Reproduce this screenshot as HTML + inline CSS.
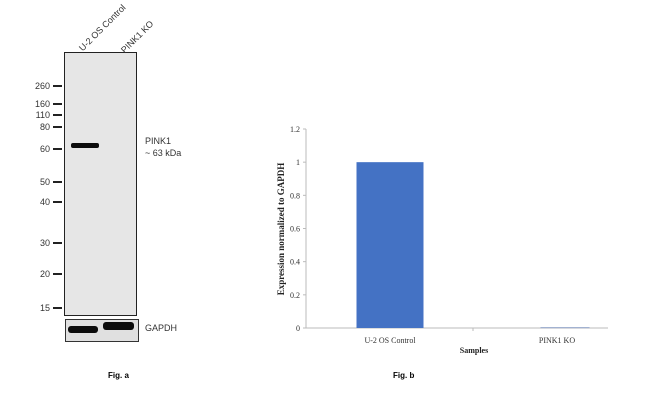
<!DOCTYPE html>
<html><head><meta charset="utf-8"><style>
body{margin:0;width:650px;height:406px;background:#fff;position:relative;overflow:hidden;font-family:"Liberation Sans",Arial,sans-serif}
.a{position:absolute}
.mk{position:absolute;left:20px;width:30px;text-align:right;font-size:9px;color:#333;line-height:10px}
.tk{position:absolute;left:53px;width:9px;height:1.5px;background:#222}
</style></head><body>
<div class="a" style="left:64px;top:52px;width:71px;height:262px;background:#e6e6e6;border:1.5px solid #222"></div>
<div class="a" style="left:77px;top:46px;font-size:9px;color:#333;transform:rotate(-45deg);transform-origin:0 0;white-space:nowrap;z-index:2">U-2 OS Control</div>
<div class="a" style="left:119px;top:48px;font-size:9px;color:#333;transform:rotate(-45deg);transform-origin:0 0;white-space:nowrap;z-index:2">PINK1 KO</div>
<div class="a" style="left:71px;top:143px;width:28px;height:5px;background:#0c0c0c;border-radius:2px"></div>
<div class="a" style="left:65px;top:319px;width:72px;height:21px;background:#e0e0e0;border:1px solid #333"></div>
<div class="a" style="left:68px;top:326px;width:30px;height:7px;background:#0c0c0c;border-radius:3px"></div>
<div class="a" style="left:103px;top:322px;width:31px;height:8px;background:#0c0c0c;border-radius:3px"></div>
<div id="mw"></div>
<div class="a" style="left:145px;top:135px;font-size:9px;color:#333;line-height:12px">PINK1<br>~ 63 kDa</div>
<div class="a" style="left:145px;top:323px;font-size:9px;color:#333">GAPDH</div>
<div class="a" style="left:108px;top:371px;font-size:8px;font-weight:bold">Fig. a</div>
<div class="a" style="left:393px;top:371px;font-size:8px;font-weight:bold">Fig. b</div>
<svg class="a" style="left:0;top:0" width="650" height="406" id="ch"></svg>
<script>
const mwLabels=["260","160","110","80","60","50","40","30","20","15"];
const mwY=[86,104,115,127,149,182,202,243,274,308];
const mw=document.getElementById('mw');
mwLabels.forEach((l,i)=>{
 const t=document.createElement('div');t.className='mk';t.style.top=(mwY[i]-5)+'px';t.textContent=l;
 
 
 mw.appendChild(t);
 const k=document.createElement('div');k.className='tk';k.style.top=(mwY[i]-1)+'px';
 
 
 mw.appendChild(k);
});
const categories=["U-2 OS Control","PINK1 KO"];
const values=[1.0,0.005];
const yTicks=[0,0.2,0.4,0.6,0.8,1,1.2];
const yTickLabels=["0","0.2","0.4","0.6","0.8","1","1.2"];
const X0=306,X1=608,Y0=328,Y1=129,YMAX=1.2;
const y=v=>Y0-(v/YMAX)*(Y0-Y1);
const band=167;
const NS='http://www.w3.org/2000/svg';
const svg=document.getElementById('ch');
function mk(tag,attrs,txt){const e=document.createElementNS(NS,tag);for(const k in attrs)e.setAttribute(k,attrs[k]);if(txt!==undefined)e.textContent=txt;svg.appendChild(e);return e;}
let ax=mk('line',{x1:X0,y1:Y1,x2:X0,y2:Y0,stroke:'#bbb'});


let bx=mk('line',{x1:X0,y1:Y0,x2:X1,y2:Y0,stroke:'#bbb'});


yTicks.forEach((v,i)=>{
 const tl=mk('line',{x1:X0-3,y1:y(v),x2:X0,y2:y(v),stroke:'#bbb'});
 
 
 const t=mk('text',{x:X0-6,y:y(v)+3,'text-anchor':'end','font-family':'Liberation Serif,serif','font-size':'8',fill:'#333'},yTickLabels[i]);
 
 
});
const mt=mk('line',{x1:473,y1:Y0,x2:473,y2:Y0+3,stroke:'#bbb'});


const bw=[67,49];
const shift=[0,8];
categories.forEach((c,i)=>{
 const cx=X0+84+band*i;
 const r=mk('rect',{x:cx+shift[i]-bw[i]/2,y:y(values[i]),width:bw[i],height:Math.max(Y0-y(values[i]),1),fill:i?'#8fa2c8':'#4472c4'});
 
 
 const t=mk('text',{x:cx,y:Y0+15,'text-anchor':'middle','font-family':'Liberation Serif,serif','font-size':'8',fill:'#333'},c);
 
 
});
const xt=mk('text',{x:474,y:353,'text-anchor':'middle','font-family':'Liberation Serif,serif','font-size':'8','font-weight':'bold',fill:'#222'},'Samples');


const yt=mk('text',{x:0,y:0,transform:'translate(284,229) rotate(-90)','text-anchor':'middle','font-family':'Liberation Serif,serif','font-size':'9','font-weight':'bold',fill:'#222'},'Expression normalized to GAPDH');


</script>
</body></html>
